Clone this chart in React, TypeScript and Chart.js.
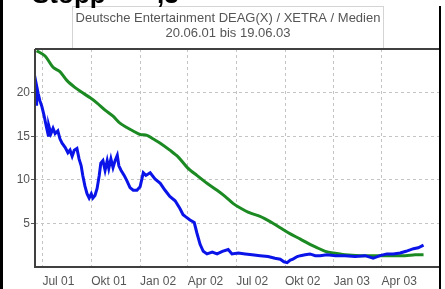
import { useEffect, useRef } from "react";
import { Chart, registerables } from "chart.js";

Chart.register(...registerables);

const titleLines = ["Deutsche Entertainment DEAG(X) / XETRA / Medien", "20.06.01 bis 19.06.03"];
const topTexts = ["Stopp", ",3"];

// x values: days since 20.06.01
const tickDays = [11, 103, 195, 285, 376, 468, 560, 650];
const tickLabels = ["Jul 01", "Okt 01", "Jan 02", "Apr 02", "Jul 02", "Okt 02", "Jan 03", "Apr 03"];

const priceDays = [0, 1, 3, 6, 10, 14, 18, 22, 23, 27, 31, 35, 40, 44, 48, 54, 59, 63, 67, 71, 76, 80, 84, 87, 91, 95, 99, 103, 106, 110, 114, 118, 121, 125, 129, 133, 136, 140, 144, 148, 152, 155, 159, 165, 170, 176, 182, 189, 195, 201, 206, 214, 223, 233, 242, 251, 261, 270, 276, 280, 289, 297, 302, 308, 314, 321, 331, 340, 350, 361, 368, 380, 393, 406, 421, 436, 449, 459, 466, 472, 478, 483, 491, 497, 506, 515, 525, 534, 547, 563, 581, 600, 619, 634, 647, 660, 672, 685, 696, 710, 719, 729];
const priceValues = [18.5, 20.5, 19.9, 19.1, 18.4, 17.4, 16.2, 15.1, 16.2, 15.3, 15.9, 15.3, 15.6, 14.7, 14.2, 13.7, 13.1, 13.4, 12.7, 13.4, 13.6, 12.4, 11.6, 10.5, 9.3, 8.4, 7.9, 8.4, 7.9, 8.2, 9.0, 10.5, 11.9, 12.2, 11.1, 12.2, 11.3, 12.4, 11.4, 12.2, 12.8, 11.6, 11.1, 10.5, 9.9, 9.1, 8.8, 8.8, 9.2, 10.8, 10.5, 10.8, 10.1, 9.6, 8.8, 8.1, 7.6, 6.7, 6.0, 5.8, 5.4, 5.1, 3.9, 2.6, 1.8, 1.5, 1.7, 1.5, 1.8, 2.0, 1.5, 1.6, 1.5, 1.4, 1.3, 1.2, 1.0, 0.9, 0.6, 0.5, 0.8, 0.9, 1.2, 1.3, 1.4, 1.5, 1.3, 1.3, 1.4, 1.3, 1.3, 1.2, 1.3, 1.0, 1.3, 1.5, 1.5, 1.6, 1.8, 2.1, 2.2, 2.5];

const avgDays = [0, 16, 31, 44, 57, 72, 86, 101, 114, 129, 144, 157, 170, 182, 195, 208, 219, 233, 251, 267, 284, 302, 321, 340, 355, 370, 383, 402, 421, 440, 459, 478, 497, 515, 529, 544, 559, 581, 610, 638, 666, 694, 713, 729];
const avgValues = [24.8, 24.2, 22.9, 22.4, 21.4, 20.6, 20.0, 19.4, 18.8, 18.0, 17.3, 16.5, 16.0, 15.6, 15.2, 15.1, 14.7, 14.2, 13.4, 12.6, 11.4, 10.5, 9.6, 8.8, 8.1, 7.3, 6.8, 6.2, 5.8, 5.2, 4.5, 3.8, 3.2, 2.6, 2.2, 1.8, 1.6, 1.4, 1.3, 1.3, 1.3, 1.3, 1.4, 1.4];

const yMin = 0;
const yMax = 25;
const yStep = 5;
const xMin = -3;
const xMax = 760;

const decoPlugin = {
  id: "deco",
  beforeDraw(chart: any) {
    const ctx = chart.ctx;
    ctx.save();
    ctx.fillStyle = "#ffffff";
    ctx.fillRect(0, 0, chart.width, chart.height);
    ctx.restore();
  },
  afterDraw(chart: any) {
    const ctx = chart.ctx;
    const { left, right, top, bottom } = chart.chartArea;
    ctx.save();
    // title box
    ctx.strokeStyle = "#d4d4d4";
    ctx.lineWidth = 1;
    ctx.strokeRect(72.5, 6.5, 311, top - 6.5);
    ctx.fillStyle = "#555555";
    ctx.font = '13px "Liberation Sans", Arial, sans-serif';
    ctx.textAlign = "center";
    ctx.textBaseline = "middle";
    ctx.fillText(titleLines[0], 228, 18, 306);
    ctx.fillText(titleLines[1], 228, 33, 132);
    // cut-off heading text
    ctx.fillStyle = "#000000";
    ctx.font = 'bold 26px "Liberation Sans", Arial, sans-serif';
    ctx.textAlign = "left";
    ctx.textBaseline = "alphabetic";
    ctx.fillText(topTexts[0], 32, 3);
    ctx.fillText(topTexts[1], 157, 3);
    // plot frame
    ctx.strokeStyle = "#404040";
    ctx.lineWidth = 2;
    ctx.beginPath();
    ctx.moveTo(left, top);
    ctx.lineTo(right, top);
    ctx.moveTo(left, top);
    ctx.lineTo(left, bottom);
    ctx.moveTo(left - 1, bottom);
    ctx.lineTo(right, bottom);
    ctx.stroke();
    ctx.fillStyle = "#000000";
    ctx.fillRect(right - 1, 6, 2, chart.height - 6);
    ctx.fillRect(0, 0, 3, chart.height);
    ctx.restore();
  },
};

export default function App() {
  const ref = useRef<HTMLCanvasElement | null>(null);
  useEffect(() => {
    document.body.style.margin = "0";
    const canvas = ref.current;
    if (!canvas) return;
    const chart = new Chart(canvas, {
      type: "line",
      data: {
        datasets: [
          {
            label: "Kurs",
            data: priceDays.map((d, i) => ({ x: d, y: priceValues[i] })),
            borderColor: "#0a14e8",
            borderWidth: 3,
            pointRadius: 0,
            tension: 0,
          },
          {
            label: "Durchschnitt",
            data: avgDays.map((d, i) => ({ x: d, y: avgValues[i] })),
            borderColor: "#1c8a22",
            borderWidth: 3,
            pointRadius: 0,
            tension: 0.3,
          },
        ],
      },
      options: {
        responsive: false,
        animation: false,
        layout: { padding: { top: 49, right: 5, left: 0, bottom: 0 } },
        plugins: {
          legend: { display: false },
          tooltip: { enabled: false },
          title: { display: false },
        },
        scales: {
          x: {
            type: "linear",
            min: xMin,
            max: xMax,
            afterBuildTicks: (scale: any) => {
              scale.ticks = tickDays.map((v) => ({ value: v }));
            },
            afterFit: (scale: any) => {
              scale.height = 22;
            },
            grid: {
              color: "#c4c4c4",
              lineWidth: 1,
              drawTicks: false,
            },
            border: { display: false, dash: [3, 3] },
            ticks: {
              autoSkip: false,
              maxRotation: 0,
              align: "start",
              padding: 7,
              color: "#555555",
              font: { family: '"Liberation Sans Narrow", "Liberation Sans", Arial, sans-serif', size: 12 },
              callback: (v: any) => {
                const i = tickDays.indexOf(Number(v));
                return i >= 0 ? tickLabels[i] : "";
              },
            },
          },
          y: {
            min: yMin,
            max: yMax,
            afterFit: (scale: any) => {
              scale.width = 35;
            },
            grid: {
              color: (c: any) => (c.tick && c.tick.value > yMin && c.tick.value < yMax ? "#c4c4c4" : "rgba(0,0,0,0)"),
              tickColor: (c: any) => (c.tick && c.tick.value > yMin && c.tick.value < yMax ? "#555555" : "rgba(0,0,0,0)"),
              lineWidth: 1,
              drawTicks: true,
              tickLength: 4,
            },
            border: { display: false, dash: [3, 3] },
            ticks: {
              stepSize: yStep,
              padding: 1,
              color: "#555555",
              font: { family: '"Liberation Sans", Arial, sans-serif', size: 12 },
              callback: (v: any) => (v > yMin && v < yMax ? String(v) : ""),
            },
          },
        },
      },
      plugins: [decoPlugin],
    } as any);
    return () => chart.destroy();
  }, []);
  return (
    <div style={{ width: 445, height: 289 }}>
      <canvas ref={ref} width={445} height={289} style={{ display: "block" }} />
    </div>
  );
}
